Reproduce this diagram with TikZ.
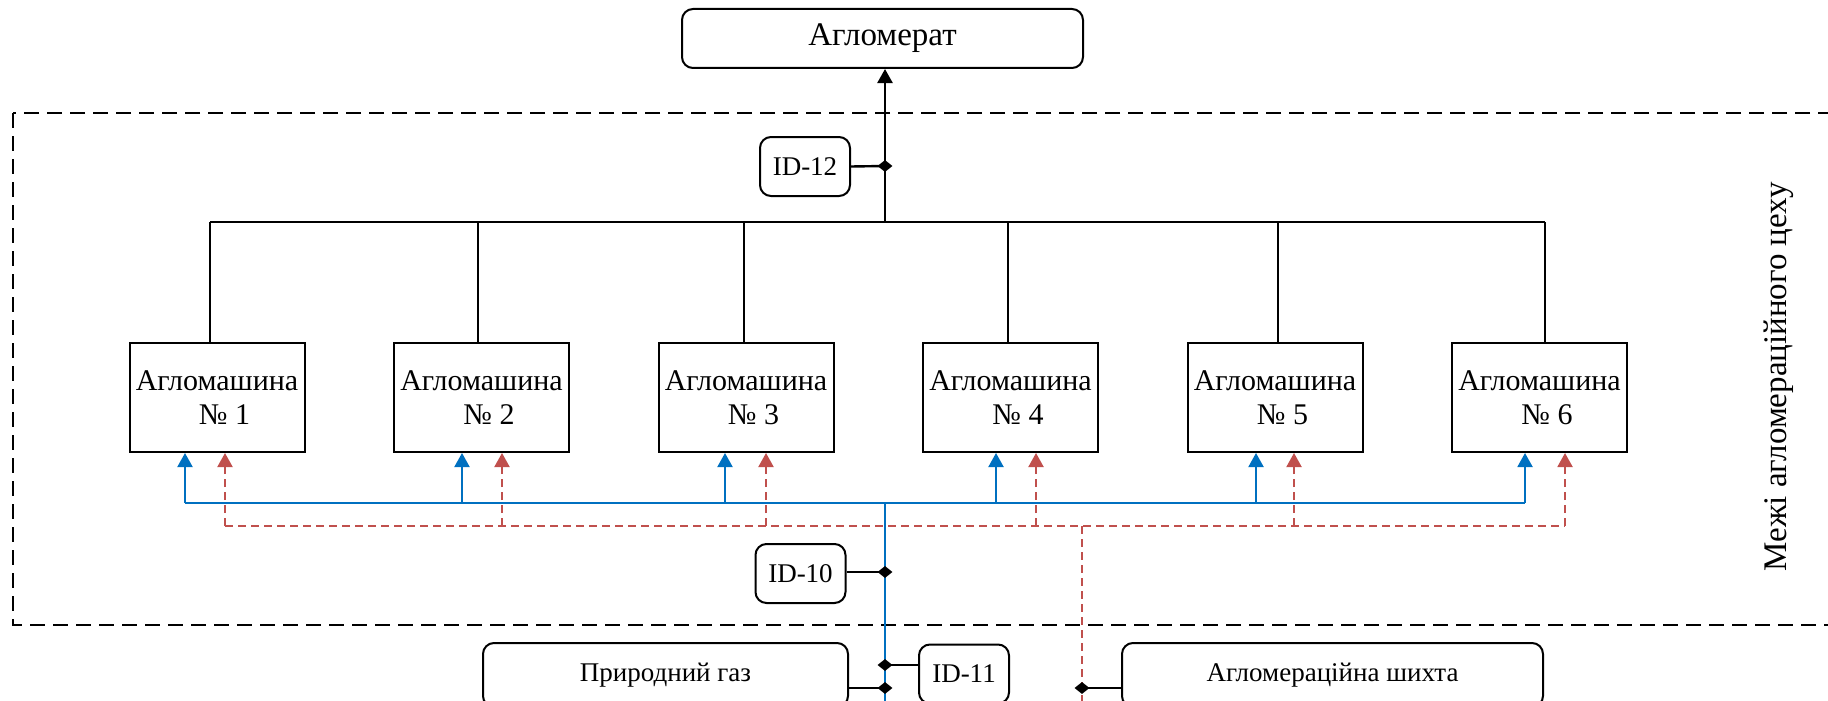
\documentclass[tikz,border=0pt]{standalone}
\usepackage{fontspec}
\setmainfont{Liberation Serif}
\usetikzlibrary{arrows.meta,shapes.geometric}
\definecolor{flowblue}{HTML}{0070C0}
\definecolor{flowred}{HTML}{C0504D}
\tikzset{
  rbox/.style={draw, line width=2pt, rounded corners=11pt, fill=white, inner sep=0pt},
  mbox/.style={draw, line width=2pt, fill=white, minimum width=175pt, minimum height=109pt, align=center, inner sep=0pt, font=\fontsize{30}{34}\selectfont},
  idbox/.style={rbox, minimum width=90pt, minimum height=59pt, font=\fontsize{27}{30}\selectfont},
  dmd/.style={diamond, fill=black, draw=none, minimum width=15pt, minimum height=12pt, inner sep=0pt},
  bline/.style={line width=1.6pt},
  tline/.style={line width=2.4pt},
  bluline/.style={draw=flowblue, line width=2pt},
  redline/.style={draw=flowred, line width=2pt, dash pattern=on 8pt off 5pt},
  bound/.style={line width=2pt, dash pattern=on 15pt off 8pt},
  tip/.style={-{Triangle[width=15pt,length=14pt]}}
}
\begin{document}
\begin{tikzpicture}[x=1pt,y=-1pt]
\clip (0,0) rectangle (1828,701);
\useasboundingbox (0,0) rectangle (1828,701);
% boundary
\draw[bound] (13,113) rectangle (1860,625);
\node[rotate=90, font=\fontsize{33}{36}\selectfont] (lab) at (1779,377) {Межі агломераційного цеху};
% top
\node[rbox, minimum width=401pt, minimum height=59pt, font=\fontsize{33}{36}\selectfont] (agl) at (882.5,38.5) {Агломерат};
% machines
\foreach \i/\cx in {1/217,2/481.5,3/746,4/1010.5,5/1275,6/1539.5}{
  \node[mbox] (m\i) at (\cx,397.5) {\raisebox{-2pt}{Агломашина}\\[2pt]\hspace*{0.5em}№ \i};
}
% black bus
\draw[bline] (210,222) -- (1545,222);
\foreach \i/\kx in {1/210,2/478,3/744,4/1008,5/1278,6/1545}{
  \draw[bline] (\kx,222) -- (m\i.north -| \kx,0);
}
\draw[tline, tip] (885,222) -- (agl.south -| 885,0);
% ID-12
\node[idbox] (id12) at (805,166.5) {ID-12};
\node[dmd] (d12) at (885,166) {};
\draw[tline] (id12.east) -- (d12.center);
% blue and red buses
\draw[bluline] (185,503) -- (1525,503);
\draw[redline] (225,526) -- (1565,526);
\foreach \i/\bx/\rx in {1/185/225,2/462/502,3/725/766,4/996/1036,5/1256/1294,6/1525/1565}{
  \draw[bluline, tip] (\bx,503) -- (m\i.south -| \bx,0);
  \draw[redline, tip] (\rx,526) -- (m\i.south -| \rx,0);
}
\draw[bluline] (885,503) -- (885,720);
\draw[redline] (1082,526) -- (1082,720);
% ID-10
\node[idbox] (id10) at (800.5,573.5) {ID-10};
\node[dmd] (d10) at (885,572) {};
\draw[tline] (id10.east |- d10) -- (d10.center);
% ID-11
\node[idbox] (id11) at (964,674) {ID-11};
\node[dmd] (d11) at (885,665) {};
\draw[tline] (id11.west |- d11) -- (d11.center);
% inputs
\node[rbox, minimum width=365pt, minimum height=64pt, font=\fontsize{27}{30}\selectfont] (gas) at (665.5,675) {Природний газ};
\node[dmd] (dg) at (885,688) {};
\draw[tline] (gas.east |- dg) -- (dg.center);
\node[rbox, minimum width=421pt, minimum height=64pt, font=\fontsize{27}{30}\selectfont] (sh) at (1332.5,675) {Агломераційна шихта};
\node[dmd] (ds) at (1082,688) {};
\draw[tline] (sh.west |- ds) -- (ds.center);
\end{tikzpicture}
\end{document}
